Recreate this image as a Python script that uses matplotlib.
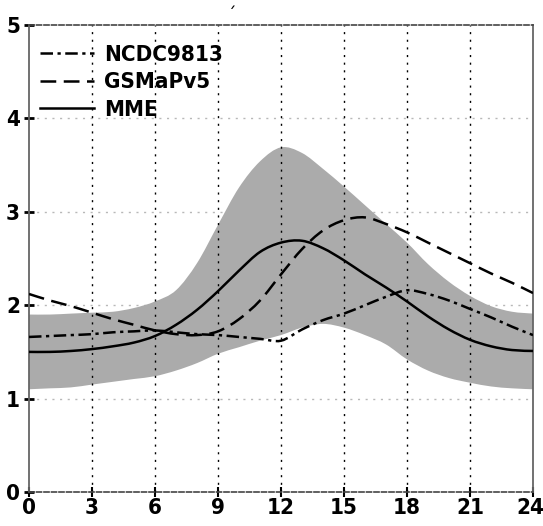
import matplotlib
matplotlib.use("Agg")
import matplotlib.pyplot as plt
import matplotlib.transforms as mtransforms
from matplotlib.path import Path
from matplotlib.patches import PathPatch
from matplotlib.lines import Line2D

hours = list(range(0, 25))
ncdc = [1.66, 1.67, 1.68, 1.69, 1.71, 1.72, 1.73, 1.71, 1.69, 1.68, 1.66, 1.64, 1.62,
        1.74, 1.84, 1.91, 2.00, 2.09, 2.16, 2.12, 2.05, 1.96, 1.87, 1.77, 1.68]
gsmap = [2.12, 2.05, 1.99, 1.92, 1.85, 1.79, 1.73, 1.69, 1.68, 1.72, 1.85, 2.05, 2.33,
         2.60, 2.80, 2.91, 2.94, 2.87, 2.78, 2.67, 2.56, 2.45, 2.34, 2.24, 2.13]
mme = [1.50, 1.50, 1.51, 1.53, 1.56, 1.60, 1.67, 1.79, 1.95, 2.15, 2.37, 2.57, 2.67,
       2.69, 2.61, 2.48, 2.33, 2.19, 2.04, 1.88, 1.74, 1.63, 1.56, 1.52, 1.51]
spread_low = [1.10, 1.11, 1.12, 1.15, 1.18, 1.21, 1.24, 1.30, 1.38, 1.48, 1.55, 1.62, 1.68,
              1.76, 1.80, 1.76, 1.68, 1.58, 1.42, 1.30, 1.22, 1.17, 1.13, 1.11, 1.10]
spread_high = [1.90, 1.90, 1.91, 1.92, 1.93, 1.97, 2.04, 2.16, 2.45, 2.86, 3.26, 3.54, 3.69,
               3.63, 3.46, 3.27, 3.07, 2.87, 2.67, 2.44, 2.25, 2.10, 1.99, 1.93, 1.91]
labels = ["NCDC9813", "GSMaPv5", "MME"]
xticks = [0, 3, 6, 9, 12, 15, 18, 21, 24]
yticks = [0, 1, 2, 3, 4, 5]

plt.rcParams['font.family'] = ["DejaVu Sans"]
TXT = dict(family="DejaVu Sans", stretch="condensed", weight="bold", size=16)


def smooth_segments(xs, ys):
    """Catmull-Rom through the read points, as cubic Bezier path pieces."""
    n = len(xs)
    verts = [(xs[0], ys[0])]
    codes = [Path.MOVETO]
    for i in range(n - 1):
        x0, y0 = xs[max(i - 1, 0)], ys[max(i - 1, 0)]
        x1, y1 = xs[i], ys[i]
        x2, y2 = xs[i + 1], ys[i + 1]
        x3, y3 = xs[min(i + 2, n - 1)], ys[min(i + 2, n - 1)]
        verts += [(x1 + (x2 - x0) / 6, y1 + (y2 - y0) / 6),
                  (x2 - (x3 - x1) / 6, y2 - (y3 - y1) / 6),
                  (x2, y2)]
        codes += [Path.CURVE4] * 3
    return verts, codes


fig = plt.figure(figsize=(5.43, 5.26), dpi=100)
ax = fig.add_axes([29/543, 1-492/526, 504/543, 467/526])

# spread band
v_hi, c_hi = smooth_segments(hours, spread_high)
v_lo, c_lo = smooth_segments(hours[::-1], spread_low[::-1])
band_v = v_hi + [v_lo[0]] + v_lo[1:] + [v_hi[0]]
band_c = c_hi + [Path.LINETO] + c_lo[1:] + [Path.CLOSEPOLY]
ax.add_patch(PathPatch(Path(band_v, band_c), facecolor="#ababab", edgecolor="none",
                       lw=0, zorder=1, transform=ax.transData))

# grid
for x in xticks[1:-1]:
    ax.axvline(x, color="black", lw=1.0, ls=(0, (1.5, 4)), zorder=2)
for y in yticks[1:-1]:
    ax.axhline(y, color="#b8b8b8", lw=1.0, ls=(0, (1.5, 4)), zorder=0.5)

lw = 1.8
styles = [(0, (5, 1.8, 1.3, 1.8)), (0, (6.3, 3)), "-"]
handles = []
for series, ls, lab in zip([ncdc, gsmap, mme], styles, labels):
    v, c = smooth_segments(hours, series)
    ax.add_patch(PathPatch(Path(v, c), facecolor="none", edgecolor="black", lw=lw,
                           ls=ls, zorder=3, capstyle="butt", transform=ax.transData))
    handles.append(Line2D([], [], color="black", lw=lw, ls=ls, label=lab))

ax.set_xlim(0, 24)
ax.set_ylim(0, 5)
ax.set_xticks(xticks)
ax.set_yticks(yticks)
ax.set_xticklabels([str(v) for v in xticks], **TXT)
ax.set_yticklabels([str(v) for v in yticks], **TXT)
ax.tick_params(axis="x", direction="inout", length=7, width=1.5, pad=1)
ax.tick_params(axis="y", direction="inout", length=7, width=2, pad=3)

# nudge the last x label so it stays inside the image
last = ax.get_xticklabels()[-1]
last.set_transform(last.get_transform() +
                   mtransforms.ScaledTranslation(-3/100, 0, fig.dpi_scale_trans))

for side in ["left", "right"]:
    ax.spines[side].set_color("#666666")
    ax.spines[side].set_linewidth(1.3)
for side in ["top", "bottom"]:
    ax.spines[side].set_color("#444444")
    ax.spines[side].set_linewidth(1.2)
    ax.spines[side].set_linestyle((0, (3, 1.5)))

leg = ax.legend(handles=handles, loc="upper left", bbox_to_anchor=(11/504, 1-20/467),
                frameon=False,
                prop={"family": "DejaVu Sans", "stretch": "condensed", "weight": "bold", "size": 16},
                handlelength=2.45, handletextpad=0.45, labelspacing=0.33,
                borderpad=0, borderaxespad=0)

fig.text(232/543, 1-15/526, "\u00b4", fontsize=12, color="black", ha="center", va="center")

fig.savefig("out.png", dpi=100)
